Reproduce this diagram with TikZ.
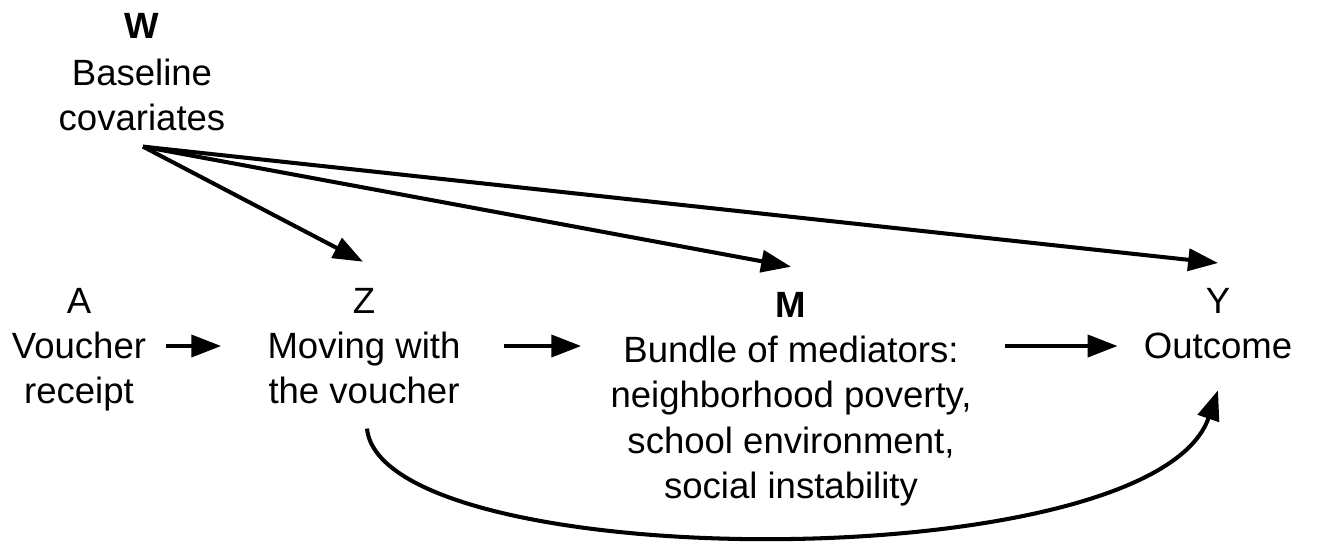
\documentclass[tikz,border=0pt]{standalone}
\usepackage{fontspec}
\setmainfont{Liberation Sans}
\usetikzlibrary{arrows.meta,calc}
\begin{document}
\begin{tikzpicture}[x=0.02cm,y=-0.02cm,
  lbl/.style={anchor=north,inner sep=0pt,align=center,font=\fontsize{20.8pt}{25.8pt}\selectfont},
  arr/.style={line width=2.3pt,-{Triangle[length=17pt,width=12.5pt]}}]
\useasboundingbox (0,0) rectangle (1318,542);
\node[lbl] (W) at (142,13) {\textbf{W}\\[1pt]Baseline\\covariates};
\node[lbl] (A) at (79,287.7) {A\\Voucher\\receipt};
\node[lbl] (Z) at (364,287.7) {Z\\Moving with\\the voucher};
\node[lbl] (M) at (791,291.7) {\textbf{M}\\Bundle of mediators:\\neighborhood poverty,\\school environment,\\social instability};
\node[lbl] (Y) at (1218,287.7) {Y\\Outcome};
% covariate arrows
\draw[arr] ($(W.south)+(1,15)$) -- ($(Z.north)+(-1,-26)$);
\draw[arr] ($(W.south)+(1,15)$) -- ($(M.north)+(0,-25)$);
\draw[arr] ($(W.south)+(1,15)$) -- ($(Y.north)+(0,-24.7)$);
% chain
\draw[arr] ($(A.north east)+(20,58.3)$) -- ($(Z.north west)+(-46,58.3)$);
\draw[arr] ($(Z.north east)+(43,58.3)$) -- ($(M.north west)+(-29,54.3)$);
\draw[arr] ($(M.north east)+(33,54.3)$) -- ($(Y.north west)+(-26,58.3)$);
% direct effect
\draw[arr] ($(Z.south)+(3,24)$) .. controls +(15,147) and +(-65,190) .. ($(Y.south)+(0,31)$);
\end{tikzpicture}
\end{document}
